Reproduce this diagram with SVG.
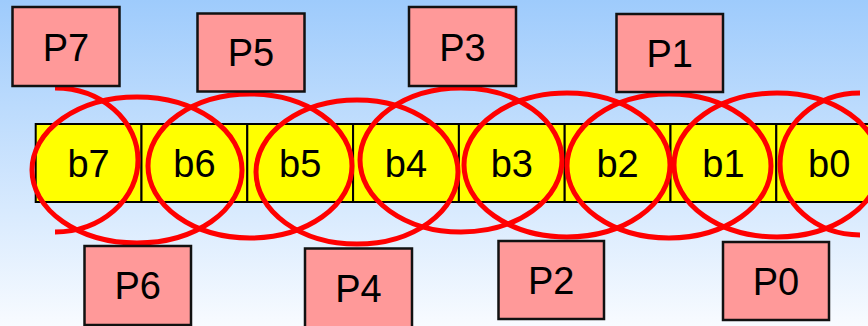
<svg xmlns="http://www.w3.org/2000/svg" width="868" height="326" viewBox="0 0 868 326">
  <defs>
    <linearGradient id="bg" x1="0" y1="0" x2="0" y2="1">
      <stop offset="0" stop-color="#9ECBFC"/>
      <stop offset="1" stop-color="#F8FBFF"/>
    </linearGradient>
    <style>
      .cell { fill: #FFFF00; stroke: #000000; stroke-width: 2; }
      .pbox { fill: #FF9999; stroke: #111111; stroke-width: 2.5; }
      .lbl { font-family: "Liberation Sans", Arial, sans-serif; font-size: 38px; fill: #000000; text-anchor: middle; }
      .ring { fill: none; stroke: #FF0000; stroke-width: 5; }
    </style>
  </defs>

  <rect x="0" y="0" width="868" height="326" fill="url(#bg)"/>

  <g id="bits">
    <g id="b7"><rect class="cell" x="35.7" y="124" width="105.8" height="78"/><text class="lbl" x="88.6" y="177">b7</text></g>
    <g id="b6"><rect class="cell" x="141.5" y="124" width="105.8" height="78"/><text class="lbl" x="194.4" y="177">b6</text></g>
    <g id="b5"><rect class="cell" x="247.3" y="124" width="105.8" height="78"/><text class="lbl" x="300.2" y="177">b5</text></g>
    <g id="b4"><rect class="cell" x="353.1" y="124" width="105.8" height="78"/><text class="lbl" x="406" y="177">b4</text></g>
    <g id="b3"><rect class="cell" x="458.9" y="124" width="105.8" height="78"/><text class="lbl" x="511.8" y="177">b3</text></g>
    <g id="b2"><rect class="cell" x="564.7" y="124" width="105.8" height="78"/><text class="lbl" x="617.6" y="177">b2</text></g>
    <g id="b1"><rect class="cell" x="670.5" y="124" width="105.8" height="78"/><text class="lbl" x="723.4" y="177">b1</text></g>
    <g id="b0"><rect class="cell" x="776.3" y="124" width="105.8" height="78"/><text class="lbl" x="829.2" y="177">b0</text></g>
  </g>

  <g id="connectors">
    <path class="ring" d="M55,88 A83,72 0 0 1 55,232"/>
    <ellipse class="ring" cx="137" cy="170" rx="105" ry="73"/>
    <ellipse class="ring" cx="250" cy="166" rx="102" ry="72"/>
    <ellipse class="ring" cx="357" cy="172" rx="101" ry="72"/>
    <ellipse class="ring" cx="461" cy="160" rx="101" ry="72"/>
    <ellipse class="ring" cx="567" cy="165" rx="103" ry="72"/>
    <ellipse class="ring" cx="669" cy="166" rx="102" ry="72"/>
    <ellipse class="ring" cx="777" cy="165" rx="103" ry="72"/>
    <path class="ring" d="M860,93 A80,71 0 0 0 860,235"/>
  </g>

  <g id="P7"><rect class="pbox" x="12.5" y="7" width="107" height="79"/><text class="lbl" x="66" y="60.5">P7</text></g>
  <g id="P5"><rect class="pbox" x="197.5" y="13.5" width="107" height="78"/><text class="lbl" x="251" y="66">P5</text></g>
  <g id="P3"><rect class="pbox" x="409" y="7" width="107" height="79"/><text class="lbl" x="462.5" y="60.5">P3</text></g>
  <g id="P1"><rect class="pbox" x="616.5" y="14" width="106.5" height="78"/><text class="lbl" x="669.7" y="66.5">P1</text></g>
  <g id="P6"><rect class="pbox" x="84.5" y="246" width="106.5" height="79"/><text class="lbl" x="137.7" y="299">P6</text></g>
  <g id="P4"><rect class="pbox" x="305" y="248.5" width="107" height="79"/><text class="lbl" x="358.5" y="301.5">P4</text></g>
  <g id="P2"><rect class="pbox" x="498.5" y="241" width="105.5" height="78"/><text class="lbl" x="551.2" y="293.5">P2</text></g>
  <g id="P0"><rect class="pbox" x="723" y="242" width="106" height="78"/><text class="lbl" x="776" y="294.5">P0</text></g>
</svg>
